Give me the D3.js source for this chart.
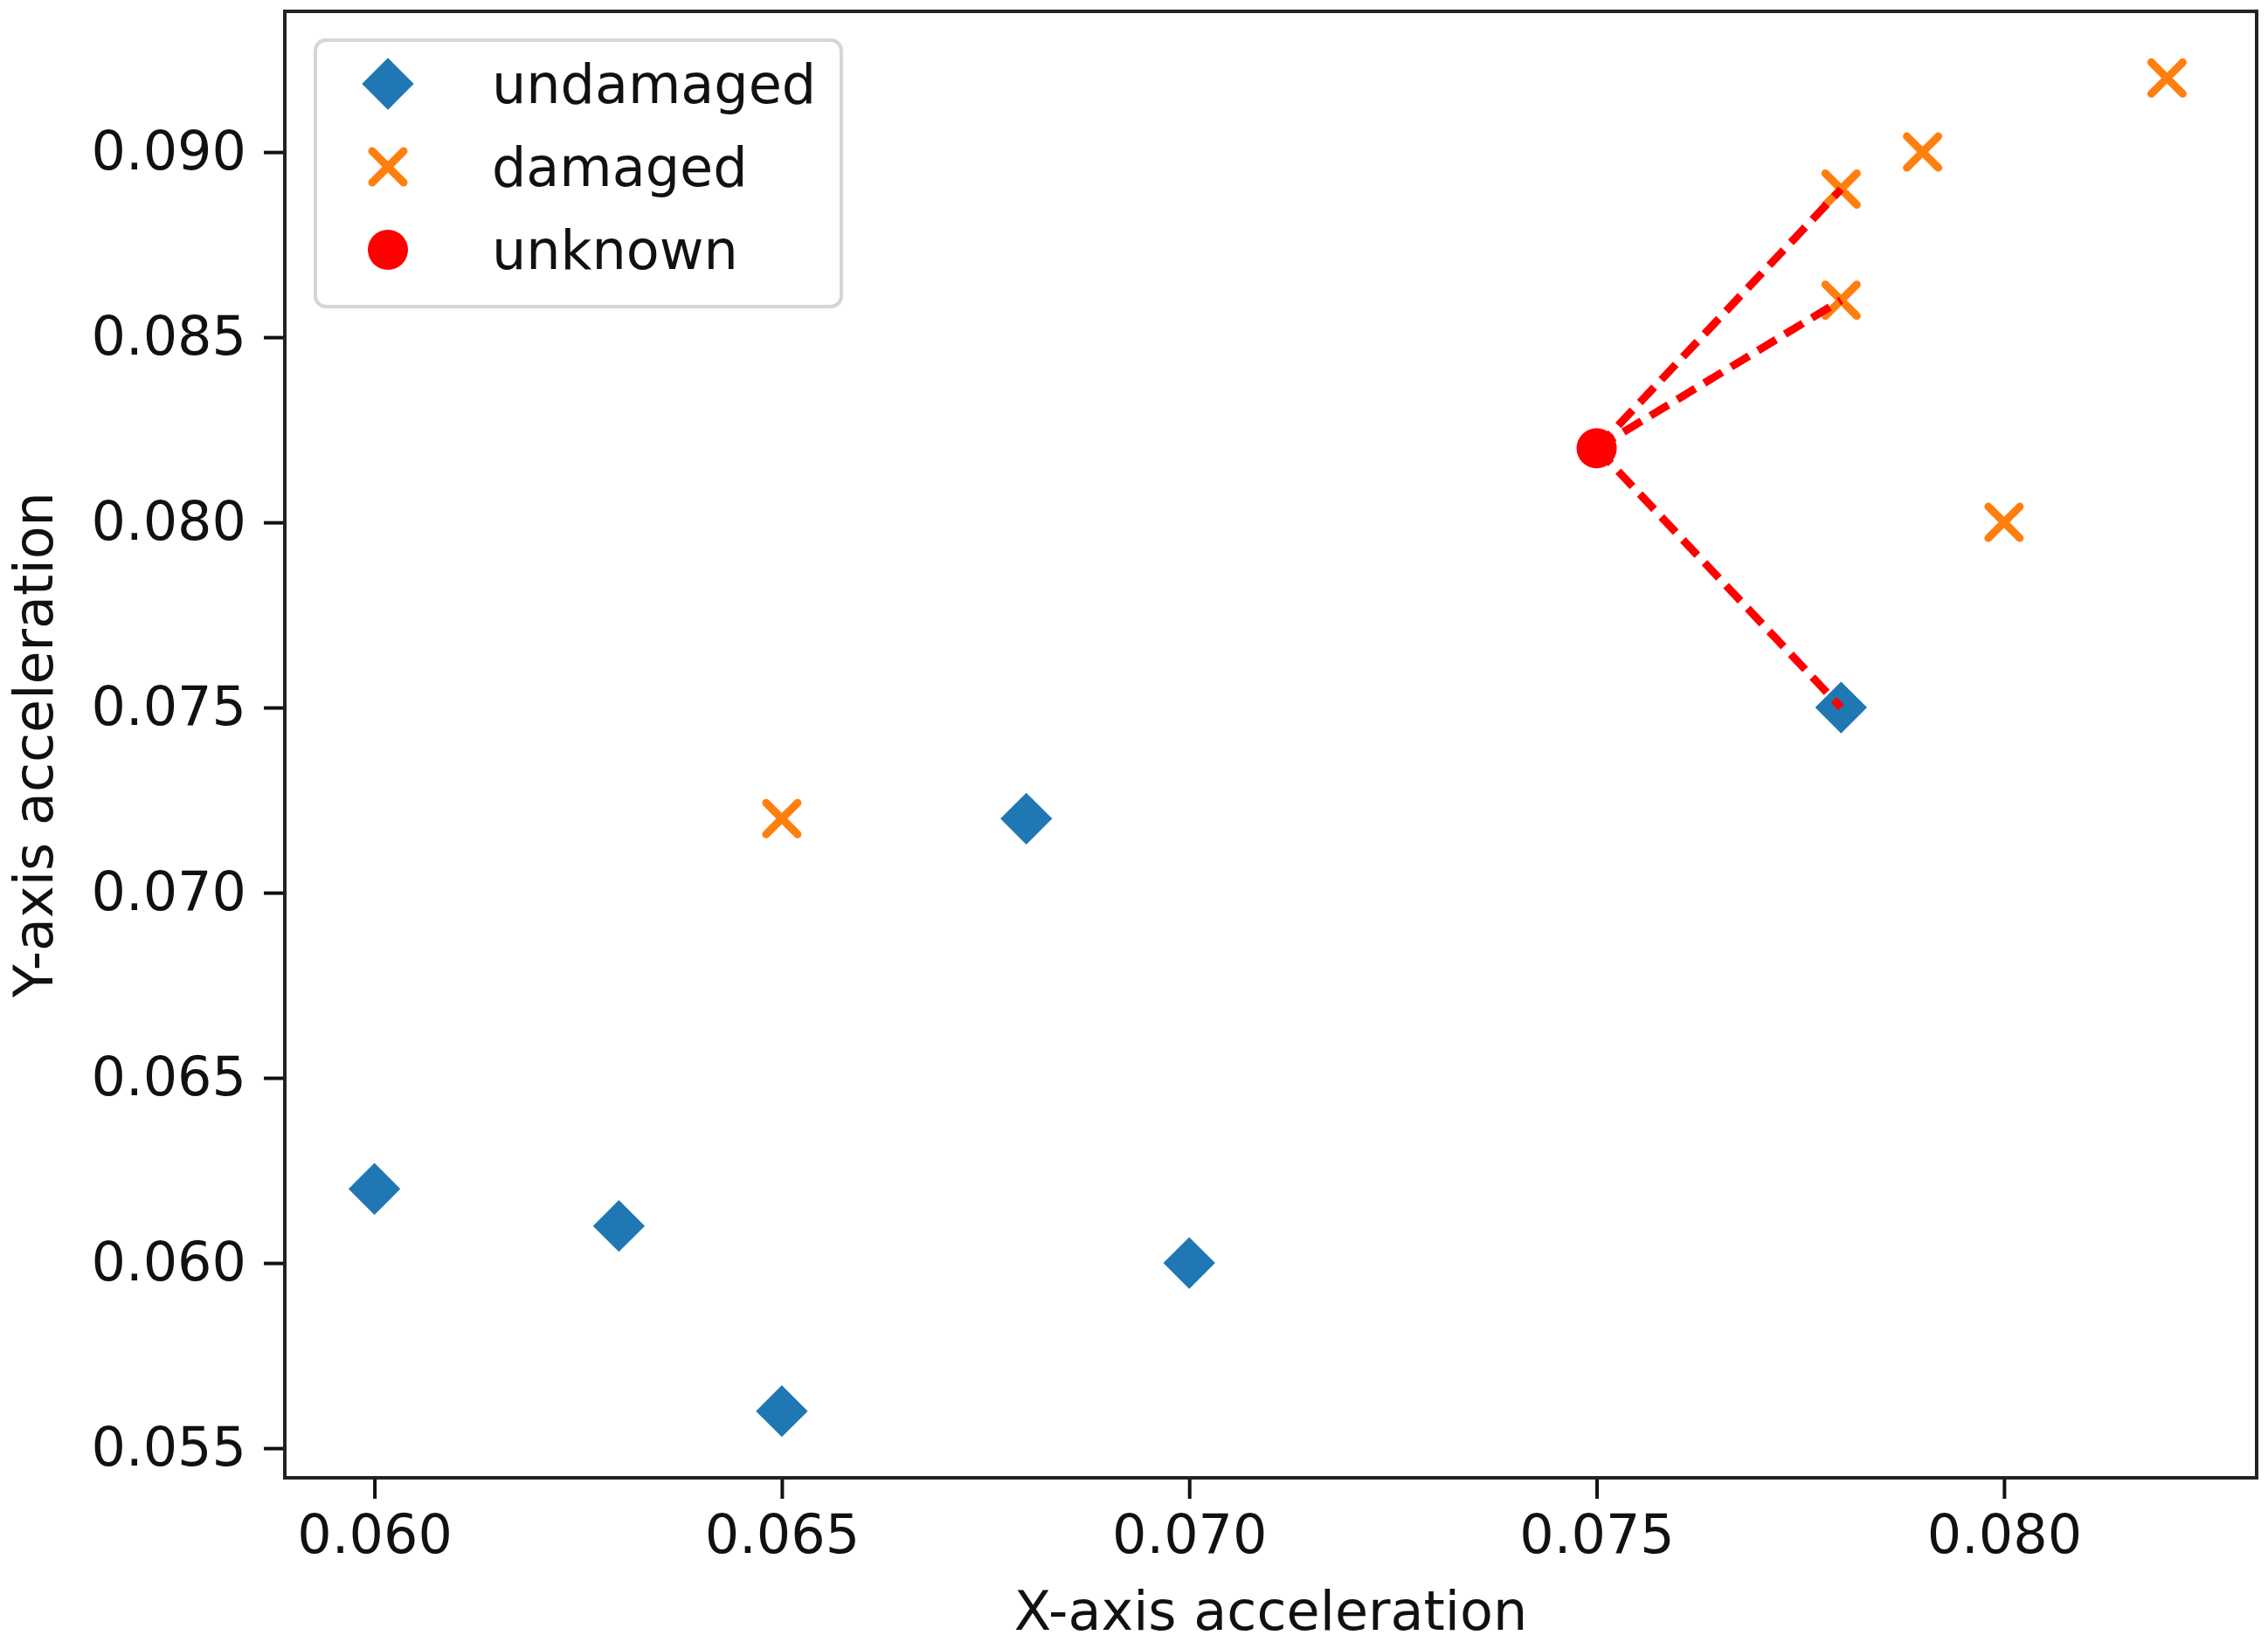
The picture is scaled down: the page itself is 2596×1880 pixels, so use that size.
<!DOCTYPE html>
<html>
<head>
<meta charset="utf-8">
<script src="https://cdn.jsdelivr.net/npm/d3@7"></script>
<style>
  body { margin: 0; background: #fff; }
  text { font-family: "DejaVu Sans", sans-serif; }
</style>
</head>
<body>
<div class="knn-viz"></div>
<script>
// data
let undamagedX = [0.060, 0.063, 0.065, 0.068, 0.070, 0.078];
let undamagedY = [0.062, 0.061, 0.056, 0.072, 0.060, 0.075];
let damagedX = [0.065, 0.078, 0.078, 0.079, 0.080, 0.082];
let damagedY = [0.072, 0.089, 0.086, 0.090, 0.080, 0.092];
let unknownX = [0.075];
let unknownY = [0.082];
// neighbours the dashed lines go to
let neighbourX = [0.078, 0.078, 0.078];
let neighbourY = [0.089, 0.086, 0.075];
let xTicks = [0.060, 0.065, 0.070, 0.075, 0.080];
let yTicks = [0.055, 0.060, 0.065, 0.070, 0.075, 0.080, 0.085, 0.090];
let legendLabels = ["undamaged", "damaged", "unknown"];

let W = 2596;
let H = 1880;
let padL = 326, padR = 13, padT = 13, padB = 188;
let fontSize = 62;

let viz = d3.select(".knn-viz")
            .append("svg")
            .attr("width", W)
            .attr("height", H)
            .style("background-color", "white")
;

let allX = undamagedX.concat(damagedX, unknownX);
let allY = undamagedY.concat(damagedY, unknownY);
// matplotlib style 5% margins
function padded(ext){
  let m = (ext[1]-ext[0])*0.05;
  return [ext[0]-m, ext[1]+m];
}
let xScale = d3.scaleLinear().domain(padded(d3.extent(allX))).range([padL, W-padR]);
let yScale = d3.scaleLinear().domain(padded(d3.extent(allY))).range([H-padB, padT]);

let fmt = d3.format(".3f");

let xAxis = d3.axisBottom(xScale).tickValues(xTicks).tickFormat(fmt).tickSize(24).tickSizeOuter(0).tickPadding(18);
let yAxis = d3.axisLeft(yScale).tickValues(yTicks).tickFormat(fmt).tickSize(24).tickSizeOuter(0).tickPadding(20);

let xAxisGroup = viz.append("g")
                    .attr("transform", "translate(0,"+(H-padB)+")")
                    .call(xAxis)
;
let yAxisGroup = viz.append("g")
                    .attr("transform", "translate("+padL+",0)")
                    .call(yAxis)
;
[xAxisGroup, yAxisGroup].forEach(function(g){
  g.select(".domain").remove();
  g.selectAll("line").attr("stroke", "#111").attr("stroke-width", 4);
  g.selectAll("text")
   .attr("fill", "#111")
   .style("font-size", fontSize+"px")
   .style("font-family", "'DejaVu Sans', sans-serif");
});

// frame
viz.append("rect")
   .attr("x", padL)
   .attr("y", padT)
   .attr("width", W-padR-padL)
   .attr("height", H-padB-padT)
   .attr("fill", "none")
   .attr("stroke", "#222")
   .attr("stroke-width", 4)
;

// axis labels
viz.append("text")
   .text("X-axis acceleration")
   .attr("x", (padL + W-padR)/2)
   .attr("y", 1866)
   .attr("text-anchor", "middle")
   .attr("font-size", fontSize+"px")
   .attr("fill", "#111")
;
viz.append("text")
   .text("Y-axis acceleration")
   .attr("transform", "translate(60,"+((padT + H-padB)/2)+") rotate(-90)")
   .attr("text-anchor", "middle")
   .attr("font-size", fontSize+"px")
   .attr("fill", "#111")
;

let blue = "#1f77b4", orange = "#ff7f0e", red = "#ff0000";

let diamond = d3.symbol().type(d3.symbolSquare).size(1760);
function drawDiamond(g){
  g.append("path").attr("d", diamond).attr("transform", "rotate(45)").attr("fill", blue);
}
function drawCross(g){
  let s = 18;
  g.append("path")
   .attr("d", "M"+(-s)+","+(-s)+"L"+s+","+s+"M"+(-s)+","+s+"L"+s+","+(-s))
   .attr("stroke", orange)
   .attr("stroke-width", 9)
   .attr("stroke-linecap", "round")
   .attr("fill", "none");
}
function drawDot(g){
  g.append("circle").attr("r", 23).attr("fill", red);
}

let plot = viz.append("g").attr("class", "plot");

let undamaged = undamagedX.map((x,i)=>({x:x, y:undamagedY[i]}));
let damaged = damagedX.map((x,i)=>({x:x, y:damagedY[i]}));
let unknown = unknownX.map((x,i)=>({x:x, y:unknownY[i]}));
let neighbours = neighbourX.map((x,i)=>({x:x, y:neighbourY[i]}));

plot.selectAll(".undamaged").data(undamaged).enter()
    .append("g").attr("class", "undamaged")
    .attr("transform", d=>"translate("+xScale(d.x)+","+yScale(d.y)+")")
    .each(function(){ drawDiamond(d3.select(this)); })
;
plot.selectAll(".damaged").data(damaged).enter()
    .append("g").attr("class", "damaged")
    .attr("transform", d=>"translate("+xScale(d.x)+","+yScale(d.y)+")")
    .each(function(){ drawCross(d3.select(this)); })
;
plot.selectAll(".unknown").data(unknown).enter()
    .append("g").attr("class", "unknown")
    .attr("transform", d=>"translate("+xScale(d.x)+","+yScale(d.y)+")")
    .each(function(){ drawDot(d3.select(this)); })
;

plot.selectAll(".nnline").data(neighbours).enter()
    .append("line").attr("class", "nnline")
    .attr("x1", xScale(unknown[0].x))
    .attr("y1", yScale(unknown[0].y))
    .attr("x2", d=>xScale(d.x))
    .attr("y2", d=>yScale(d.y))
    .attr("stroke", red)
    .attr("stroke-width", 9)
    .attr("stroke-dasharray", "24,12")
;

// legend
let legend = viz.append("g").attr("class", "legend");
legend.append("rect")
      .attr("x", 361)
      .attr("y", 46)
      .attr("width", 602)
      .attr("height", 305)
      .attr("rx", 12)
      .attr("fill", "white")
      .attr("fill-opacity", 0.8)
      .attr("stroke", "#d6d6d6")
      .attr("stroke-width", 4)
;
let drawers = [drawDiamond, drawCross, drawDot];
legendLabels.forEach(function(label, i){
  let row = legend.append("g").attr("transform", "translate(444,"+(96+i*95)+")");
  drawers[i](row);
  row.append("text")
     .text(label)
     .attr("x", 119)
     .attr("y", 22)
     .attr("font-size", fontSize+"px")
     .attr("fill", "#111")
  ;
});
</script>
</body>
</html>
